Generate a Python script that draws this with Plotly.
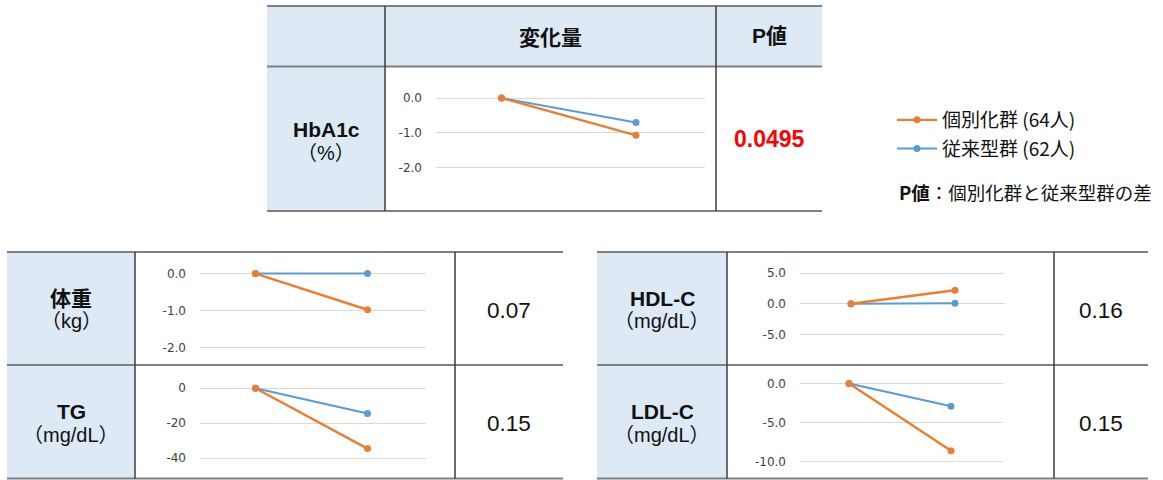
import plotly.graph_objects as go

W, H = 1163, 480

# ---------------- data ----------------
metrics = ["HbA1c", "体重", "TG", "HDL-C", "LDL-C"]
units = ["（%）", "（kg）", "（mg/dL）", "（mg/dL）", "（mg/dL）"]
timepoints = ["開始時", "終了時"]
individual_change = [-1.07, -0.98, -34.5, 2.2, -8.6]     # 個別化群
conventional_change = [-0.70, 0.0, -14.4, 0.1, -2.9]     # 従来型群
p_values = ["0.0495", "0.07", "0.15", "0.16", "0.15"]
tick_values = [[0, -1, -2], [0, -1, -2], [0, -20, -40], [5, 0, -5], [0, -5, -10]]
tick_labels = [["0.0", "-1.0", "-2.0"], ["0.0", "-1.0", "-2.0"], ["0", "-20", "-40"],
               ["5.0", "0.0", "-5.0"], ["0.0", "-5.0", "-10.0"]]
group_names = ["個別化群 (64人)", "従来型群 (62人)"]
header_labels = ["変化量", "P値"]
note_bold = "P値"
note_text = "：個別化群と従来型群の差"

ORANGE = "#ED7D31"
BLUE = "#5B9BD5"
CELL_BG = "#DDE9F5"
HLINE = "#7f7f7f"
VLINE = "#3c3c3c"
TXT = "#111111"
FONT = "Liberation Sans, Arial, Noto Sans CJK JP, sans-serif"
CJK = "Noto Sans CJK JP, Liberation Sans, sans-serif"

# ---------------- geometry (pixels) ----------------
geo = [
    dict(xl=436, xr=705, x0=501.5, x1=636, yt=98.0, yb=167.7, lab=(326, 130, 153), p=(769, 139)),
    dict(xl=200, xr=426, x0=255.5, x1=367.5, yt=273.6, yb=347.4, lab=(71, 298, 321), p=(509, 310)),
    dict(xl=200, xr=426, x0=255.5, x1=367.5, yt=388.2, yb=458.2, lab=(71, 411, 435), p=(509, 423)),
    dict(xl=800, xr=1005, x0=851, x1=955, yt=273.2, yb=334.3, lab=(662, 298, 321), p=(1101, 310)),
    dict(xl=800, xr=1003, x0=849, x1=951, yt=383.5, yb=461.8, lab=(662, 411, 435), p=(1101, 423)),
]

def px(x):
    return x / W

def py(y):
    return 1 - y / H

fig = go.Figure()
layout = dict(
    width=W, height=H,
    margin=dict(l=0, r=0, t=0, b=0),
    paper_bgcolor="white", plot_bgcolor="rgba(0,0,0,0)",
    showlegend=True,
    legend=dict(x=px(892), y=py(101), xanchor="left", yanchor="top",
                font=dict(family=CJK, size=19, color=TXT),
                bgcolor="rgba(0,0,0,0)", tracegroupgap=1, itemwidth=40),
)

for i, g in enumerate(geo):
    n = "" if i == 0 else str(i + 1)
    span = g["x1"] - g["x0"]
    xr = [-(g["x0"] - g["xl"]) / span, 1 + (g["xr"] - g["x1"]) / span]
    vt, vb = tick_values[i][0], tick_values[i][-1]
    pad = 9
    upp = (vt - vb) / (g["yb"] - g["yt"])
    yr = [vb - pad * upp, vt + pad * upp]
    dom_y = [py(g["yb"] + pad), py(g["yt"] - pad)]
    layout["xaxis" + n] = dict(domain=[px(g["xl"]), px(g["xr"])], range=xr, type="category",
                              anchor="y" + n, showgrid=False, zeroline=False,
                              showline=False, showticklabels=False, fixedrange=True)
    layout["yaxis" + n] = dict(domain=dom_y, range=yr, anchor="x" + n,
                              tickvals=tick_values[i], ticktext=tick_labels[i],
                              showgrid=True, gridcolor="#d9d9d9", gridwidth=1,
                              zeroline=False, showline=False, ticks="",
                              ticklabelstandoff=13,
                              tickfont=dict(family="DejaVu Sans, sans-serif", size=12, color="#404040"),
                              fixedrange=True)
    fig.add_trace(go.Scatter(
        x=timepoints, y=[0, conventional_change[i]], xaxis="x" + n, yaxis="y" + n,
        mode="lines+markers", name=group_names[1], legendgroup="conv", legendrank=2,
        showlegend=(i == 0), cliponaxis=False,
        line=dict(color=BLUE, width=2), marker=dict(color=BLUE, size=7)))
    fig.add_trace(go.Scatter(
        x=timepoints, y=[0, individual_change[i]], xaxis="x" + n, yaxis="y" + n,
        mode="lines+markers", name=group_names[0], legendgroup="ind", legendrank=1,
        showlegend=(i == 0), cliponaxis=False,
        line=dict(color=ORANGE, width=2.4), marker=dict(color=ORANGE, size=7)))

# ---------------- table shapes ----------------
shapes = []

def rect(x0, y0, x1, y1, color):
    shapes.append(dict(type="rect", xref="paper", yref="paper", x0=px(x0), x1=px(x1),
                       y0=py(y1), y1=py(y0), fillcolor=color, line=dict(width=0), layer="below"))

def hline(x0, x1, y):
    shapes.append(dict(type="line", xref="paper", yref="paper", x0=px(x0), x1=px(x1),
                       y0=py(y), y1=py(y), line=dict(color=HLINE, width=2.2)))

def vline(x, y0, y1):
    shapes.append(dict(type="line", xref="paper", yref="paper", x0=px(x), x1=px(x),
                       y0=py(y0), y1=py(y1), line=dict(color=VLINE, width=1.5)))

rect(267, 6, 822, 66.5, CELL_BG)
rect(267, 66.5, 385, 211, CELL_BG)
for y in (6, 66.5, 211):
    hline(267, 822, y)
vline(385, 6, 211)
vline(716, 6, 211)

rect(7, 252, 135, 478.5, CELL_BG)
for y in (252, 365, 478.5):
    hline(7, 563, y)
vline(135, 252, 478.5)
vline(455, 252, 478.5)

rect(597, 252, 727, 478.5, CELL_BG)
for y in (252, 365, 478.5):
    hline(597, 1148, y)
vline(727, 252, 478.5)
vline(1054, 252, 478.5)

layout["shapes"] = shapes

# ---------------- text ----------------
ann = []

def text(x, y, s, size, color=TXT, family=FONT, xanchor="center"):
    ann.append(dict(xref="paper", yref="paper", x=px(x), y=py(y), text=s, showarrow=False,
                    xanchor=xanchor, yanchor="middle",
                    font=dict(family=family, size=size, color=color)))

text(550.5, 36, "<b>" + header_labels[0] + "</b>", 21, family=CJK)
text(769, 36, "<b>" + header_labels[1] + "</b>", 21, family=FONT)

for i, g in enumerate(geo):
    lx, ly1, ly2 = g["lab"]
    text(lx, ly1, "<b>" + metrics[i] + "</b>", 21, family=FONT)
    text(lx, ly2, units[i], 20, family=FONT)
    pxx, pyy = g["p"]
    if i == 0:
        text(pxx, pyy, "<b>" + p_values[i] + "</b>", 23, color="#FF0000")
    else:
        text(pxx, pyy, p_values[i], 22.5)

text(897, 192, "<b>" + note_bold + "</b>" + note_text, 18.5, family=CJK, xanchor="left")

layout["annotations"] = ann
fig.update_layout(**layout)
fig.write_html("out.html", config={"displayModeBar": False},
               post_script="document.body.style.margin='0';")
